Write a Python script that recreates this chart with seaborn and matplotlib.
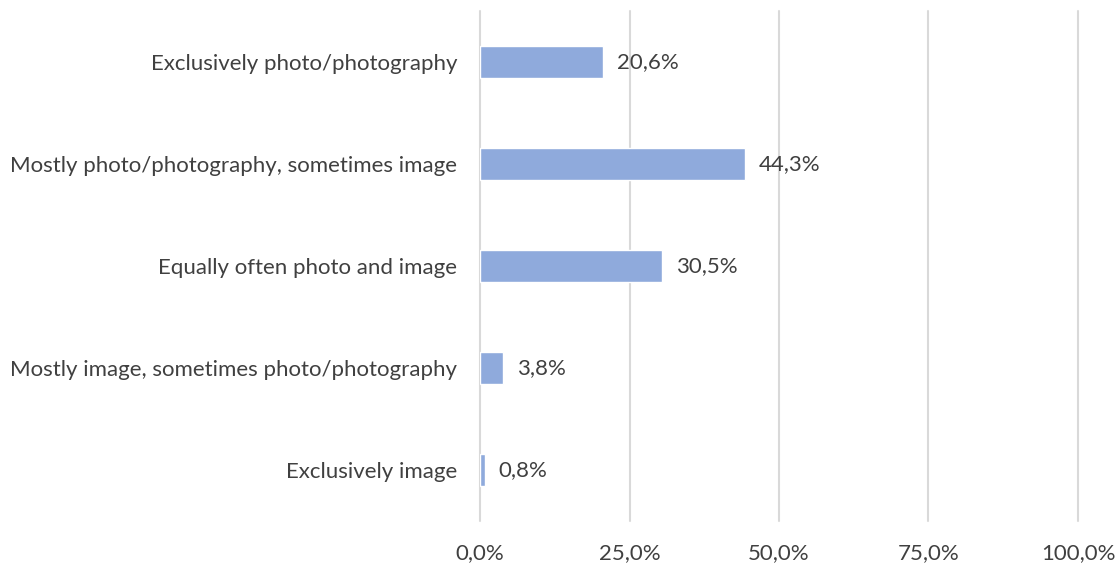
import matplotlib
matplotlib.use("Agg")
import matplotlib.pyplot as plt
import seaborn as sns
import pandas as pd

categories = [
    "Exclusively photo/photography",
    "Mostly photo/photography, sometimes image",
    "Equally often photo and image",
    "Mostly image, sometimes photo/photography",
    "Exclusively image",
]
shares = [20.6, 44.3, 30.5, 3.8, 0.8]
x_ticks = [0, 25, 50, 75, 100]

df = pd.DataFrame({"category": categories, "share": shares})

sns.set_theme(style="white")
plt.rcParams["font.family"] = ["Lato", "DejaVu Sans"]
text_color = "#404040"
font_size = 16

fig = plt.figure(figsize=(11.15, 5.65), dpi=100)
ax = fig.add_axes([0.4305, 0.078, 0.5363, 0.9025])

sns.barplot(data=df, x="share", y="category", orient="h", color="#8faadc",
            saturation=1, width=0.31, ax=ax)

ax.set_xlim(0, 100)
ax.set_xticks(x_ticks)
ax.set_xticklabels([f"{t:.1f}%".replace(".", ",") for t in x_ticks],
                   fontsize=font_size, color=text_color)
ax.tick_params(axis="y", labelsize=font_size, labelcolor=text_color, length=0, pad=16.5)
ax.tick_params(axis="x", length=0, pad=16)
ax.set_xlabel("")
ax.set_ylabel("")

ax.xaxis.grid(True, color="#d9d9d9", linewidth=1.5)
for gl in ax.get_xgridlines():
    gl.set_clip_on(False)
ax.set_axisbelow(True)
for s in ax.spines.values():
    s.set_visible(False)

for p, v in zip(ax.patches, shares):
    ax.annotate(f"{v:.1f}%".replace(".", ","),
                (p.get_width(), p.get_y() + p.get_height() / 2),
                xytext=(14, 0), textcoords="offset pixels",
                va="center", ha="left", fontsize=font_size, color=text_color)

fig.savefig("out.png", dpi=100)
